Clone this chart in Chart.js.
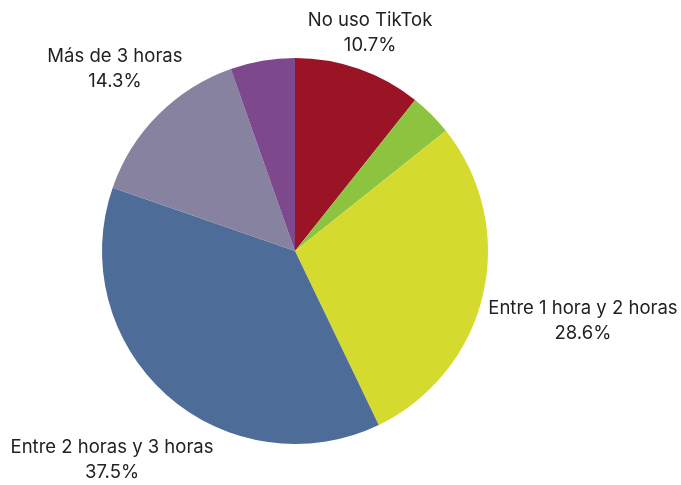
<!DOCTYPE html>
<html>
<head>
<meta charset="utf-8">
<script src="https://cdn.jsdelivr.net/npm/chart.js@4/dist/chart.umd.min.js"></script>
<style>
  body { margin: 0; background: #fff; }
  #wrap { width: 681px; height: 485px; }
</style>
</head>
<body>
<div id="wrap"><canvas id="tiktok"></canvas></div>
<script>
var categorias = ['No uso TikTok', 'Menos de 1 hora', 'Entre 1 hora y 2 horas', 'Entre 2 horas y 3 horas', 'Más de 3 horas', 'No sabe'];
var porcentajes = [10.7, 3.6, 28.6, 37.5, 14.3, 5.4];
var colores = ['#9A1425', '#8CC43F', '#D5DB2E', '#4E6C98', '#86829F', '#7D488C'];
// only these slices get a label; offsets are in radius units from the centre
var conEtiqueta = [true, false, true, true, true, false];
var posEtiqueta = [[0.389, -1.132], null, [1.492, 0.363], [-0.948, 1.083], [-0.933, -0.943], null];

var etiquetas = {
  id: 'etiquetas',
  afterDraw: function (chart) {
    var ctx = chart.ctx;
    var arc = chart.getDatasetMeta(0).data[0];
    var cx = arc.x, cy = arc.y, r = arc.outerRadius;
    ctx.save();
    ctx.font = '18.5px Inter, "Noto Sans", sans-serif';
    ctx.fillStyle = '#222';
    ctx.textAlign = 'center';
    ctx.textBaseline = 'middle';
    categorias.forEach(function (nombre, i) {
      if (!conEtiqueta[i]) return;
      var x = cx + posEtiqueta[i][0] * r;
      var y = cy + posEtiqueta[i][1] * r;
      ctx.fillText(nombre, x, y - 12.5);
      ctx.fillText(porcentajes[i].toFixed(1) + '%', x, y + 12.5);
    });
    ctx.restore();
  }
};

var ctx = document.getElementById('tiktok').getContext('2d');
var chart = new Chart(ctx, {
  type: 'pie',
  data: {
    labels: categorias,
    datasets: [{
      data: porcentajes,
      backgroundColor: colores,
      borderWidth: 0
    }]
  },
  options: {
    responsive: true,
    maintainAspectRatio: false,
    animation: false,
    layout: { padding: { left: 102, right: 193, top: 58, bottom: 41 } },
    plugins: {
      legend: { display: false },
      tooltip: { enabled: false }
    }
  },
  plugins: [etiquetas]
});
</script>
</body>
</html>
